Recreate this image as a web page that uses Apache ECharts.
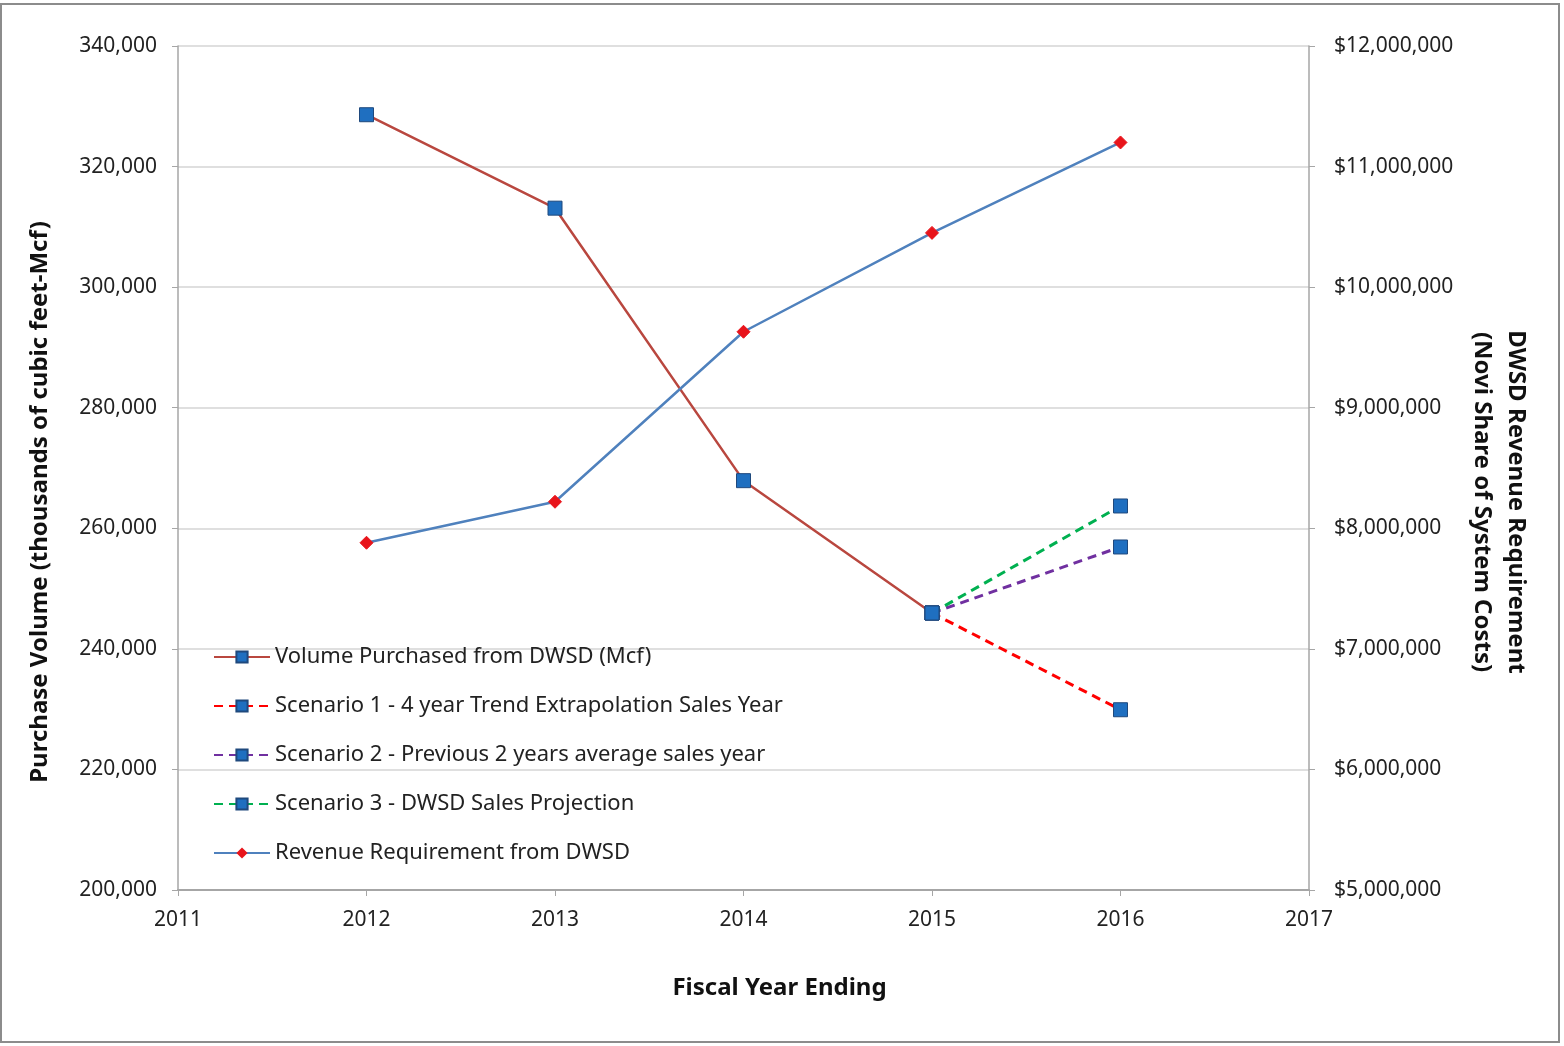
<!DOCTYPE html>
<html><head><meta charset="utf-8">
<script src="https://cdn.jsdelivr.net/npm/echarts@6/dist/echarts.min.js"></script>
<style>html,body{margin:0;padding:0;background:#fff}#c{width:1564px;height:1046px}</style>
</head><body><div id="c"></div>
<script>
const years = [2012, 2013, 2014, 2015];
const volume = [328600, 313100, 267900, 245950];
const scenario1 = [245950, 229900];
const scenario2 = [245950, 256900];
const scenario3 = [245950, 263700];
const scenarioYears = [2015, 2016];
const revYears = [2012, 2013, 2014, 2015, 2016];
const revenue = [7880000, 8220000, 9630000, 10450000, 11200000];
const names = [
  'Volume Purchased from DWSD (Mcf)',
  'Scenario 1 - 4 year Trend Extrapolation Sales Year',
  'Scenario 2 - Previous 2 years average sales year',
  'Scenario 3 - DWSD Sales Projection',
  'Revenue Requirement from DWSD'
];
const pair = (xs, ys) => xs.map((x, i) => [x, ys[i]]);
const font = '"Noto Sans", "Open Sans", sans-serif';
const sq = {symbol: 'rect', symbolSize: 14, itemStyle: {color: '#1f6fc0', borderColor: '#1f497d', borderWidth: 1}};
const chart = echarts.init(document.getElementById('c'));
chart.setOption({
  animation: false,
  textStyle: {fontFamily: font},
  graphic: [{type: 'rect', shape: {x: 1, y: 4, width: 1558, height: 1038}, style: {fill: 'none', stroke: '#8c8c8c', lineWidth: 2}}],
  grid: {left: 178, right: 255, top: 46, bottom: 156, containLabel: false, outerBoundsMode: 'none'},
  legend: {
    orient: 'vertical', left: 208, top: 641, itemGap: 27, itemWidth: 56, itemHeight: 14,
    textStyle: {fontSize: 22, color: '#222', fontFamily: font},
    data: names
  },
  xAxis: {
    type: 'value', min: 2011, max: 2017, interval: 1,
    name: 'Fiscal Year Ending', nameLocation: 'middle', nameGap: 86,
    nameTextStyle: {fontSize: 24, fontWeight: 'bold', color: '#111', padding: [0, 0, 0, 72]},
    axisLine: {lineStyle: {color: '#a6a6a6', width: 2}},
    axisTick: {show: true, length: 6, lineStyle: {color: '#a6a6a6'}},
    axisLabel: {fontSize: 21, color: '#222', margin: 20, formatter: v => String(v)},
    splitLine: {show: false}
  },
  yAxis: [{
    type: 'value', min: 200000, max: 340000, interval: 20000,
    name: 'Purchase Volume (thousands of cubic feet-Mcf)', nameLocation: 'middle', nameGap: 126,
    nameTextStyle: {fontSize: 24, fontWeight: 'bold', color: '#111', padding: [0, 68, 0, 0]},
    axisLine: {show: true, lineStyle: {color: '#a6a6a6', width: 1.5}},
    axisTick: {show: true, length: 6, lineStyle: {color: '#a6a6a6'}},
    axisLabel: {fontSize: 21, color: '#222', margin: 21, formatter: v => v.toLocaleString('en-US')},
    splitLine: {show: true, lineStyle: {color: '#d4d4d4', width: 1.5}}
  }, {
    type: 'value', min: 5000000, max: 12000000, interval: 1000000, position: 'right',
    name: 'DWSD Revenue Requirement\n(Novi Share of System Costs)', nameLocation: 'middle', nameGap: 156, nameRotate: -90,
    nameTextStyle: {fontSize: 24, fontWeight: 'bold', color: '#111', lineHeight: 34, padding: [0, 0, 0, 68]},
    axisLine: {show: true, lineStyle: {color: '#a6a6a6', width: 1.5}},
    axisTick: {show: true, length: 6, lineStyle: {color: '#a6a6a6'}},
    axisLabel: {fontSize: 21, color: '#222', margin: 25, formatter: v => '$' + v.toLocaleString('en-US')},
    splitLine: {show: false}
  }],
  series: [
    Object.assign({name: names[1], type: 'line', data: pair(scenarioYears, scenario1), lineStyle: {color: '#ff0000', width: 3, type: [9, 6]}}, sq),
    Object.assign({name: names[2], type: 'line', data: pair(scenarioYears, scenario2), lineStyle: {color: '#7030a0', width: 3, type: [9, 6]}}, sq),
    Object.assign({name: names[3], type: 'line', data: pair(scenarioYears, scenario3), lineStyle: {color: '#00b050', width: 3, type: [9, 6]}}, sq),
    Object.assign({name: names[0], type: 'line', data: pair(years, volume), lineStyle: {color: '#b9473f', width: 2.5}, z: 3}, sq),
    {name: names[4], type: 'line', yAxisIndex: 1, data: pair(revYears, revenue), symbol: 'diamond', symbolSize: 13,
      itemStyle: {color: '#e8141b', borderColor: '#e8141b'}, lineStyle: {color: '#4f81bd', width: 2.5}, z: 4}
  ]
});
</script></body></html>
